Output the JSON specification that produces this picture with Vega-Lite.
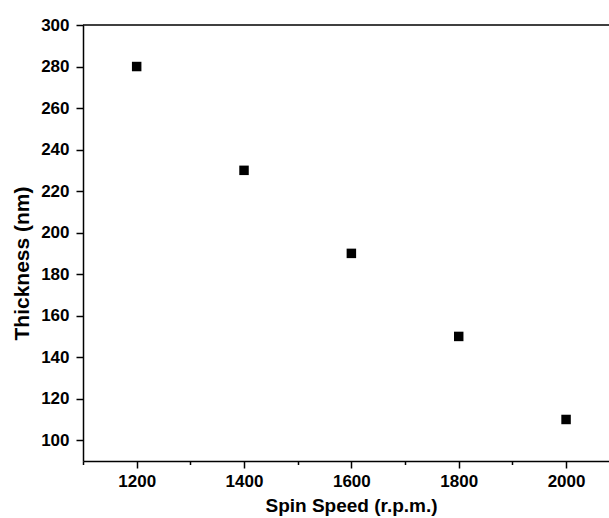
{
  "$schema": "https://vega.github.io/schema/vega-lite/v6.json",
  "width": 526,
  "height": 436,
  "autosize": "none",
  "padding": {"left": 83, "top": 25, "right": 0, "bottom": 57},
  "background": "white",
  "config": {
    "view": {"stroke": null},
    "font": "Liberation Sans",
    "axis": {
      "domainColor": "black",
      "domainWidth": 1.5,
      "tickColor": "black",
      "tickWidth": 1.5,
      "grid": false,
      "labelFont": "Liberation Sans",
      "labelFontWeight": "bold",
      "labelFontSize": 17,
      "labelColor": "black",
      "titleFont": "Liberation Sans",
      "titleFontWeight": "bold",
      "titleColor": "black"
    }
  },
  "data": {
    "values": [
      {"speed": 1200, "thickness": 280},
      {"speed": 1400, "thickness": 230},
      {"speed": 1600, "thickness": 190},
      {"speed": 1800, "thickness": 150},
      {"speed": 2000, "thickness": 110}
    ]
  },
  "layer": [
    {
      "mark": {"type": "square", "size": 90, "color": "black", "opacity": 1, "filled": true},
      "encoding": {
        "x": {
          "field": "speed",
          "type": "quantitative",
          "scale": {"domain": [1100, 2080], "nice": false, "zero": false},
          "axis": {
            "title": "Spin Speed (r.p.m.)",
            "titleFontSize": 19,
            "titleX": 268,
            "titlePadding": 7,
            "values": [1100, 1200, 1300, 1400, 1500, 1600, 1700, 1800, 1900, 2000],
            "labelExpr": "datum.value % 200 === 0 ? datum.label : ''",
            "format": "d",
            "tickSize": {"condition": {"test": "datum.value % 200 === 0", "value": 7}, "value": 3.5},
            "labelPadding": 5,
            "labelFlush": false,
            "labelOverlap": false
          }
        },
        "y": {
          "field": "thickness",
          "type": "quantitative",
          "scale": {"domain": [90, 300], "nice": false, "zero": false},
          "axis": {
            "title": "Thickness (nm)",
            "titleFontSize": 21,
            "titleY": 238,
            "titlePadding": 8,
            "values": [100, 110, 120, 130, 140, 150, 160, 170, 180, 190, 200, 210, 220, 230, 240, 250, 260, 270, 280, 290, 300],
            "labelExpr": "datum.value % 20 === 0 ? datum.label : ''",
            "tickSize": {"condition": {"test": "datum.value % 20 === 0", "value": 7}, "value": 3.5},
            "labelPadding": 7,
            "labelFlush": false,
            "labelOverlap": false
          }
        }
      }
    },
    {
      "data": {"values": [{"y": 300}]},
      "mark": {"type": "rule", "color": "black", "strokeWidth": 1.5},
      "encoding": {"y": {"field": "y", "type": "quantitative"}}
    }
  ]
}
